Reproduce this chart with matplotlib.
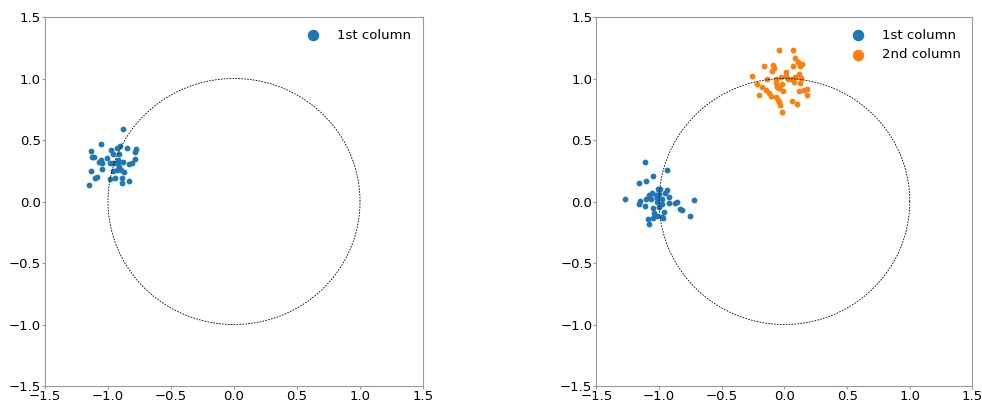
import numpy as np
import matplotlib as mpl
import matplotlib.pyplot as plt

mpl.rc('font', family='DejaVu Sans', size=9.5)
mpl.rc('figure', facecolor='w')

# left panel: "1st column" points
left_x = [-0.883, -1.058, -0.905, -0.931, -0.852, -0.780, -1.132, -0.976, -0.788, -0.958,
          -0.910, -1.127, -1.111, -1.010, -0.786, -0.923, -1.058, -1.074, -1.048, -0.984,
          -0.963, -0.939, -0.913, -0.878, -0.836, -0.810, -1.045, -0.910, -1.132, -0.958,
          -0.931, -0.899, -0.873, -1.090, -1.103, -0.984, -0.947, -0.886, -0.889, -0.833,
          -1.151]
left_y = [0.591, 0.466, 0.455, 0.436, 0.436, 0.428, 0.409, 0.420, 0.401, 0.387,
          0.385, 0.360, 0.363, 0.352, 0.349, 0.338, 0.338, 0.319, 0.311, 0.311,
          0.316, 0.316, 0.324, 0.324, 0.308, 0.311, 0.267, 0.279, 0.246, 0.249,
          0.257, 0.257, 0.243, 0.202, 0.189, 0.186, 0.189, 0.194, 0.153, 0.169,
          0.134]

# right panel: "1st column" points
right1_x = [-1.112, -0.939, -1.050, -1.159, -1.106, -1.271, -0.992, -1.010, -0.934, -1.053,
            -1.082, -1.000, -0.952, -0.923, -1.018, -1.061, -1.104, -1.154, -0.721, -0.979,
            -1.018, -0.979, -0.854, -0.870, -0.918, -1.157, -1.109, -1.045, -0.998, -0.833,
            -0.817, -1.040, -0.960, -1.014, -0.979, -0.966, -1.050, -1.088, -0.751, -1.080,
            -1.026]
right1_y = [0.322, 0.257, 0.210, 0.148, 0.164, 0.023, 0.102, 0.099, 0.091, 0.072,
            0.053, 0.059, 0.067, 0.039, 0.029, 0.018, 0.020, 0.007, 0.010, 0.018,
            -0.007, -0.020, -0.001, -0.015, -0.015, -0.020, -0.037, -0.051, -0.042, -0.059,
            -0.069, -0.091, -0.086, -0.118, -0.124, -0.134, -0.137, -0.145, -0.121, -0.183,
            0.051]

# right panel: "2nd column" points
right2_x = [-0.046, 0.065, 0.084, 0.108, 0.142, 0.121, -0.166, -0.092, -0.086, -0.102,
            0.065, 0.010, 0.118, -0.261, -0.028, 0.015, 0.086, -0.142, -0.065, 0.025,
            0.057, 0.129, 0.076, -0.068, -0.020, -0.217, 0.124, -0.182, -0.060, -0.044,
            -0.147, 0.182, 0.158, -0.012, 0.113, -0.121, -0.201, 0.177, -0.108, -0.070,
            -0.052, 0.062, 0.097, -0.041, -0.038, -0.022]
right2_y = [1.235, 1.235, 1.164, 1.134, 1.115, 1.099, 1.104, 1.110, 1.085, 1.064,
            1.099, 1.053, 1.039, 1.017, 1.015, 1.017, 1.015, 0.996, 0.996, 0.998,
            0.998, 1.007, 0.971, 0.963, 0.955, 0.955, 0.963, 0.933, 0.933, 0.922,
            0.909, 0.917, 0.909, 0.901, 0.895, 0.882, 0.866, 0.866, 0.854, 0.849,
            0.827, 0.817, 0.795, 0.808, 0.786, 0.724]

lims = [-1.5, 1.5]
ticks = [-1.5, -1.0, -0.5, 0.0, 0.5, 1.0, 1.5]
dotSize = 10

fig = plt.figure(figsize=(9.82, 4.01), dpi=100)
axL = fig.add_axes([0.0458, 0.0374, 0.3850, 0.9202])
axR = fig.add_axes([0.6074, 0.0374, 0.3829, 0.9202])

theta = np.linspace(0, 2 * np.pi, 400)

for ax in [axL, axR]:
    ax.plot(np.cos(theta), np.sin(theta), color='k', linestyle='--', linewidth=0.6,
            dashes=(2, 1.5))
    ax.set_xlim(lims)
    ax.set_ylim(lims)
    ax.set_xticks(ticks)
    ax.set_yticks(ticks)
    for sp in ax.spines.values():
        sp.set_color('#999999')
    ax.tick_params(length=2, width=0.8, color='#999999', pad=1)

axL.scatter(left_x, left_y, s=dotSize, color='#1f77b4', label='1st column')
axR.scatter(right1_x, right1_y, s=dotSize, color='#1f77b4', label='1st column')
axR.scatter(right2_x, right2_y, s=dotSize, color='#ff7f0e', label='2nd column')

for ax in [axL, axR]:
    ax.legend(loc='upper right', frameon=False, markerscale=2.3)

plt.savefig('out.png', dpi=100)
